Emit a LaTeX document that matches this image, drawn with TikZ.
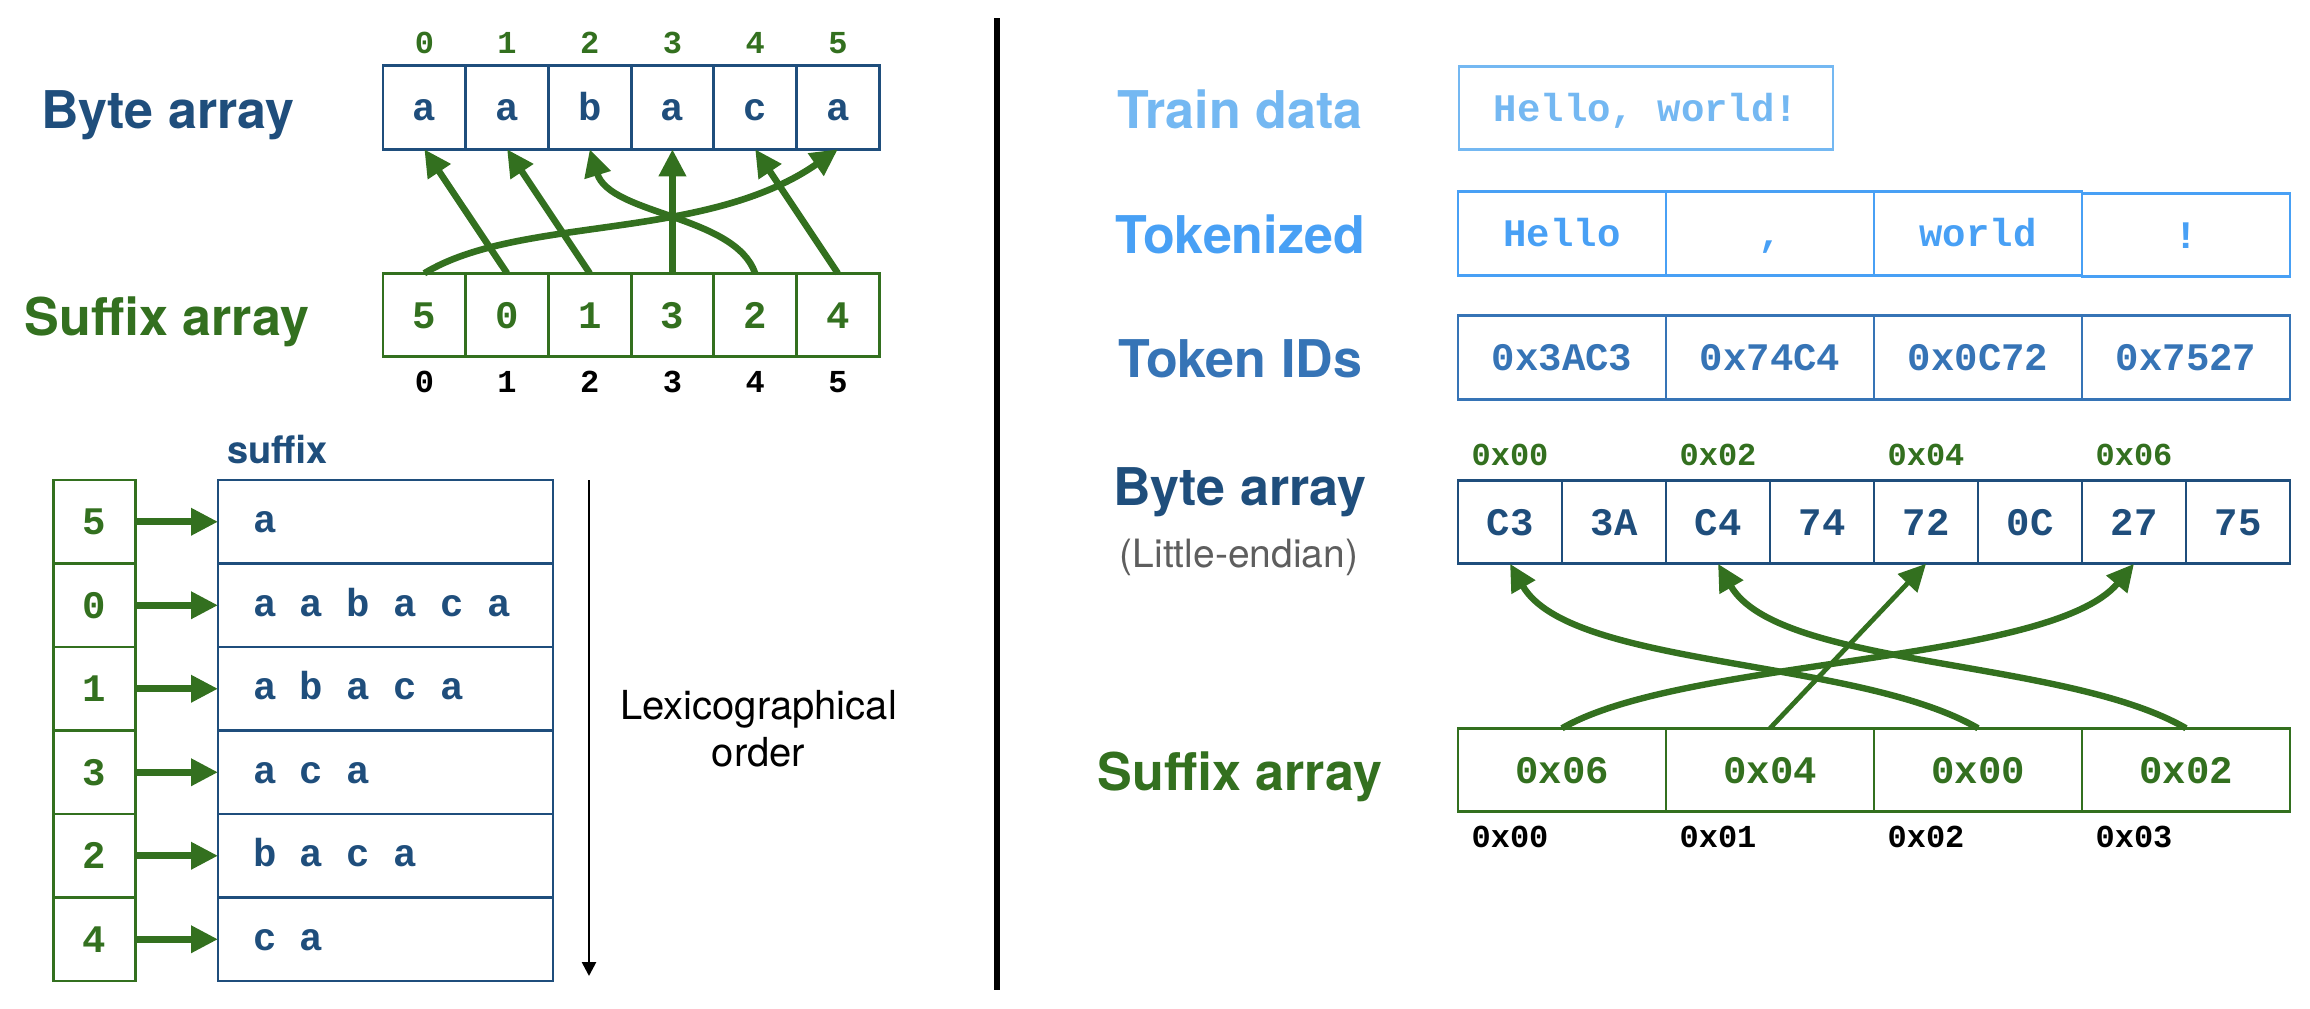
\documentclass[tikz,border=0pt]{standalone}
\usepackage{fontspec}
\setmainfont{TeX Gyre Heros}
\newfontfamily\codefont{Liberation Mono}
\usetikzlibrary{arrows.meta,positioning}
\definecolor{bytenode}{HTML}{1F4E7C}
\definecolor{sufnode}{HTML}{33701F}
\definecolor{trainnode}{HTML}{74B8F2}
\definecolor{toknode}{HTML}{48A0F5}
\definecolor{idnode}{HTML}{3674B6}
\definecolor{notegray}{HTML}{5E5E5E}
\tikzset{
      cell/.style = {draw, line width=1.4pt, inner sep=0pt, outer sep=0pt, alias=tmp,
                     minimum width=41.35pt, minimum height=41.75pt,
                     text height=13pt, text depth=0pt,
                     font=\codefont\bfseries\fontsize{19.5}{22}\selectfont},
  bytecell/.style = {cell, draw=bytenode, text=bytenode},
   sufcell/.style = {cell, draw=sufnode, text=sufnode},
   tokcell/.style = {cell, draw=toknode, text=toknode, minimum width=104pt},
    idcell/.style = {cell, draw=idnode, text=idnode, minimum width=104pt},
    sufbox/.style = {bytecell, text width=132.5pt, inner xsep=17.5pt,
                     align=flush left, text height=11pt},  % keeps full mono spaces
     title/.style = {anchor=base, font=\bfseries\fontsize{26}{30}\selectfont},
       idx/.style = {font=\codefont\bfseries\fontsize{16}{18}\selectfont},
       arr/.style = {-{Triangle[length=13.5pt,width=13pt]}, line width=3.3pt, sufnode},
}

\begin{document}
\begin{tikzpicture}[x=0.5pt,y=-0.5pt]
\useasboundingbox (0,0) rectangle (2310,1008);

% ---- left: byte array / suffix array
\node[title, text=bytenode] (lbyte) at (168,128) {Byte array};
\node[title, text=sufnode] (lsuf) at (167,335) {Suffix array};
\path[nodes=bytecell]
node (b0) at (424.35,107.5) {a}
node[right=0pt of tmp] (b1) {a}
node[right=0pt of tmp] (b2) {b}
node[right=0pt of tmp] (b3) {a}
node[right=0pt of tmp] (b4) {c}
node[right=0pt of tmp] (b5) {a};
\path[nodes=sufcell]
node (s0) at (424.35,315) {5}
node[right=0pt of tmp] (s1) {0}
node[right=0pt of tmp] (s2) {1}
node[right=0pt of tmp] (s3) {3}
node[right=0pt of tmp] (s4) {2}
node[right=0pt of tmp] (s5) {4};
\foreach \i in {0,...,5} {
  \path[nodes=idx] (b\i.north) ++(0,-23) node[text=sufnode] {\i};
  \path[nodes=idx] (s\i.south) ++(0,25) node {\i};
}
\draw[arr] (s0.north) .. controls (520,215) and (705,242) .. (b5.south);
\draw[arr] (s1.north) -- (b0.south);
\draw[arr] (s2.north) -- (b1.south);
\draw[arr] (s3.north) -- (b3.south);
\draw[arr] (s4.north) .. controls (735,215) and (610,215) .. (b2.south);
\draw[arr] (s5.north) -- (b4.south);

% ---- left: sorted suffixes
\node[anchor=base, text=bytenode, font=\bfseries\fontsize{19}{22}\selectfont] (suflbl) at (277.5,463) {suffix};
\path[nodes=sufcell]
node (ix0) at (94.5,521.75) {5}
node[below=0pt of tmp] (ix1) {0}
node[below=0pt of tmp] (ix2) {1}
node[below=0pt of tmp] (ix3) {3}
node[below=0pt of tmp] (ix4) {2}
node[below=0pt of tmp] (ix5) {4};
\path[nodes=sufbox]
node (sx0) at (385.5,521.75) {a}
node[below=0pt of tmp] (sx1) {a a b a c a}
node[below=0pt of tmp] (sx2) {a b a c a}
node[below=0pt of tmp] (sx3) {a c a}
node[below=0pt of tmp] (sx4) {b a c a}
node[below=0pt of tmp] (sx5) {c a};
\foreach \i in {0,...,5} \draw[arr] (ix\i) -- (sx\i);
\coordinate (otop) at (589,480);
\coordinate (obot) at (589,976);
\draw[-{Triangle[length=7pt,width=7pt]}, line width=1.3pt] (otop) -- (obot);
\node[align=center, font=\fontsize{20}{23.5}\selectfont] (lexi) at (758.5,729) {Lexicographical\\order};

% ---- divider
\coordinate (dtop) at (997,18);
\coordinate (dbot) at (997,990);
\draw[line width=2.8pt] (dtop) -- (dbot);

% ---- right: tokens to suffix array
\node[title, text=trainnode] (ltrain) at (1240,128) {Train data};
\node[title, text=toknode] (ltok) at (1240,253) {Tokenized};
\node[title, text=idnode] (lid) at (1240,377) {Token IDs};
\node[title, text=bytenode] (rbyte) at (1240,505) {Byte array};
\node[anchor=base, text=notegray, font=\fontsize{19.5}{22}\selectfont] (lend) at (1239,567) {(Little-endian)};
\node[title, text=sufnode] (rsuf) at (1240,790) {Suffix array};

\node[cell, draw=trainnode, text=trainnode, minimum width=187pt] (train) at (1646,108) {Hello, world!};
\path[nodes=tokcell]
node (k0) at (1562,233.5) {Hello}
node[right=0pt of tmp] (k1) {,}
node[right=0pt of tmp] (k2) {world}
node[right=0pt of tmp, yshift=-0.75pt] (k3) {!};
\path[nodes=idcell]
node (d0) at (1562,357.5) {0x3AC3}
node[right=0pt of tmp] (d1) {0x74C4}
node[right=0pt of tmp] (d2) {0x0C72}
node[right=0pt of tmp] (d3) {0x7527};
\path[nodes={bytecell, minimum width=52pt}]
node (y0) at (1510,522) {C3}
node[right=0pt of tmp] (y1) {3A}
node[right=0pt of tmp] (y2) {C4}
node[right=0pt of tmp] (y3) {74}
node[right=0pt of tmp] (y4) {72}
node[right=0pt of tmp] (y5) {0C}
node[right=0pt of tmp] (y6) {27}
node[right=0pt of tmp] (y7) {75};
\path[nodes={sufcell, minimum width=104pt}]
node (r0) at (1562,770) {0x06}
node[right=0pt of tmp] (r1) {0x04}
node[right=0pt of tmp] (r2) {0x00}
node[right=0pt of tmp] (r3) {0x02};
\foreach \i/\t in {0/0x00, 2/0x02, 4/0x04, 6/0x06}
  \path[nodes=idx] (y\i.north) ++(0,-25) node[text=sufnode] {\t};
\foreach \i/\j/\t in {0/0/0x00, 1/2/0x01, 2/4/0x02, 3/6/0x03}
  \path[nodes=idx] (y\j.center |- r\i.south) ++(0,25) node {\t};
\draw[arr, line width=3.2pt] (r0.north) .. controls (1683,658) and (2050,664) .. (y6.south);
\draw[arr, line width=2.4pt] (r1.north) -- (y4.south);
\draw[arr, line width=3.2pt] (r2.north) .. controls (1857,658) and (1570,668) .. (y0.south);
\draw[arr, line width=3.2pt] (r3.north) .. controls (2065,658) and (1778,668) .. (y2.south);
\end{tikzpicture}
\end{document}
